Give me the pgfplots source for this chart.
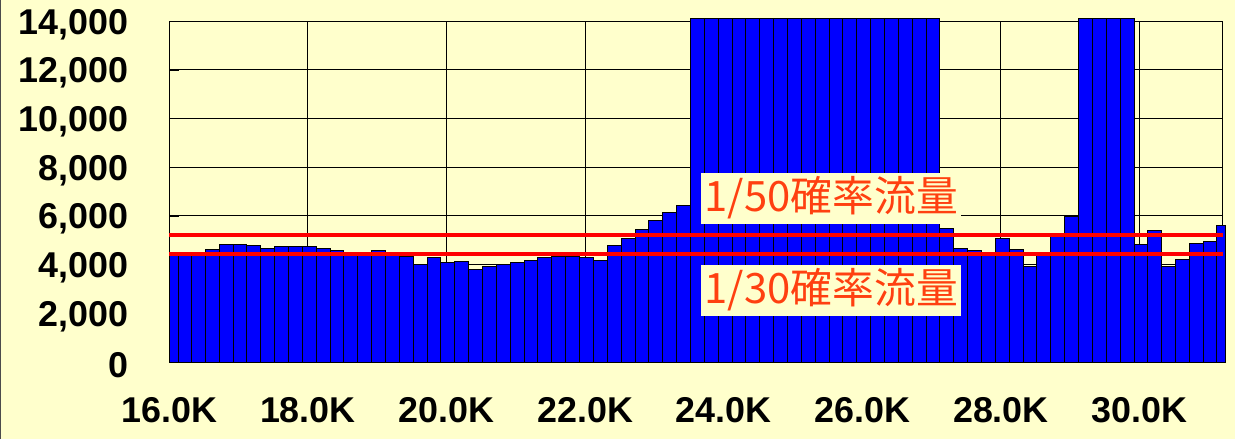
\documentclass[border=0pt]{standalone}
\usepackage{fontspec}
\setmainfont{Liberation Sans}
\newfontfamily\jp{Noto Sans CJK JP}
\usepackage{pgfplots}
\pgfplotsset{compat=1.18}
\definecolor{cream}{RGB}{255,255,204}
\definecolor{barblue}{RGB}{0,0,255}
\definecolor{lblred}{RGB}{255,64,16}
\begin{document}
\begin{tikzpicture}
\path[use as bounding box] (-84.65bp,-38.5bp) rectangle (532.85bp,181bp);
\fill[cream] (-84.65bp,-38.5bp) rectangle (532.85bp,181bp);
\draw[black!70, line width=0.6bp] (-84.35bp,-38.5bp) -- (-84.35bp,181bp);
\begin{axis}[
  at={(0,0)}, anchor=south west,
  scale only axis, width=526.7bp, height=170.35bp,
  xmin=16, xmax=31.2, ymin=0, ymax=14000,
  clip=false,
  scaled y ticks=false, scaled x ticks=false,
  axis background/.style={fill=cream},
  axis line style={black, line width=0.6bp},
  grid=major,
  major grid style={black, line width=0.5bp},
  xtick={16,18,20,22,24,26,28,30},
  xticklabels={16.0K,18.0K,20.0K,22.0K,24.0K,26.0K,28.0K,30.0K},
  minor x tick num=1,
  ytick={0,2000,4000,6000,8000,10000,12000,14000},
  yticklabels={0,{2,000},{4,000},{6,000},{8,000},{10,000},{12,000},{14,000}},
  tick pos=left, tick align=inside,
  major tick length=5bp, minor tick length=5bp,
  tick style={black, line width=0.6bp},
  ticklabel style={font=\bfseries\fontsize{18}{18}\selectfont, text=black},
  yticklabel style={xshift=-17bp, yshift=-1.5bp},
  xticklabel style={yshift=-14bp},
]
% bars (centres of 0.2K bins)
\addplot[ybar, bar width=0.2, fill=barblue, draw=black, line width=0.5bp] coordinates {
(16.22,4380) (16.42,4480) (16.62,4616) (16.82,4837) (17.02,4837) (17.22,4781)
(17.42,4672) (17.62,4727) (17.82,4727) (18.02,4727) (18.22,4672) (18.42,4562)
(18.62,4490) (18.82,4480) (19.02,4562) (19.22,4480) (19.42,4343) (19.62,4015)
(19.82,4274) (20.02,4069) (20.22,4124) (20.42,3794) (20.62,3905) (20.82,4015)
(21.02,4069) (21.22,4180) (21.42,4288) (21.62,4343) (21.82,4343) (22.02,4288)
(22.22,4180) (22.42,4768) (22.62,5055) (22.82,5438) (23.02,5822) (23.22,6151)
(23.42,6439) (23.62,14120) (23.82,14120) (24.02,14120) (24.22,14120) (24.42,14120)
(24.62,14120) (24.82,14120) (25.02,14120) (25.22,14120) (25.42,14120) (25.62,14120)
(25.82,14120) (26.02,14120) (26.22,14120) (26.42,14120) (26.62,14120) (26.82,14120)
(27.02,14120) (27.22,5485) (27.42,4670) (27.62,4570) (27.82,4480) (28.02,5090)
(28.22,4615) (28.42,3904) (28.62,4450) (28.82,5295) (29.02,5975) (29.22,14120)
(29.42,14120) (29.62,14120) (29.82,14120) (30.02,4837) (30.22,5383) (30.42,3904)
(30.62,4232) (30.82,4880) (31.02,4935)
};
% partial bins at both ends
\addplot[ybar, bar width=0.13, fill=barblue, draw=black, line width=0.5bp] coordinates {(16.065,4380)};
\addplot[ybar, bar width=0.12, fill=barblue, draw=black, line width=0.5bp] coordinates {(31.176,5590)};
% probability flow lines
\addplot[red, line width=2bp] coordinates {(16,5220) (31.2,5220)};
\addplot[red, line width=2bp] coordinates {(16,4450) (31.2,4450)};
\node[fill=cream, inner xsep=1.5bp, inner ysep=0pt, minimum height=25.5bp, text=lblred,
      font=\jp\fontsize{21}{21}\selectfont] at (axis cs:25.55,6738) {1/50確率流量};
\node[fill=cream, inner xsep=1.5bp, inner ysep=0pt, minimum height=25.5bp, text=lblred,
      font=\jp\fontsize{21}{21}\selectfont] at (axis cs:25.55,2958) {1/30確率流量};
\end{axis}
\end{tikzpicture}
\end{document}
